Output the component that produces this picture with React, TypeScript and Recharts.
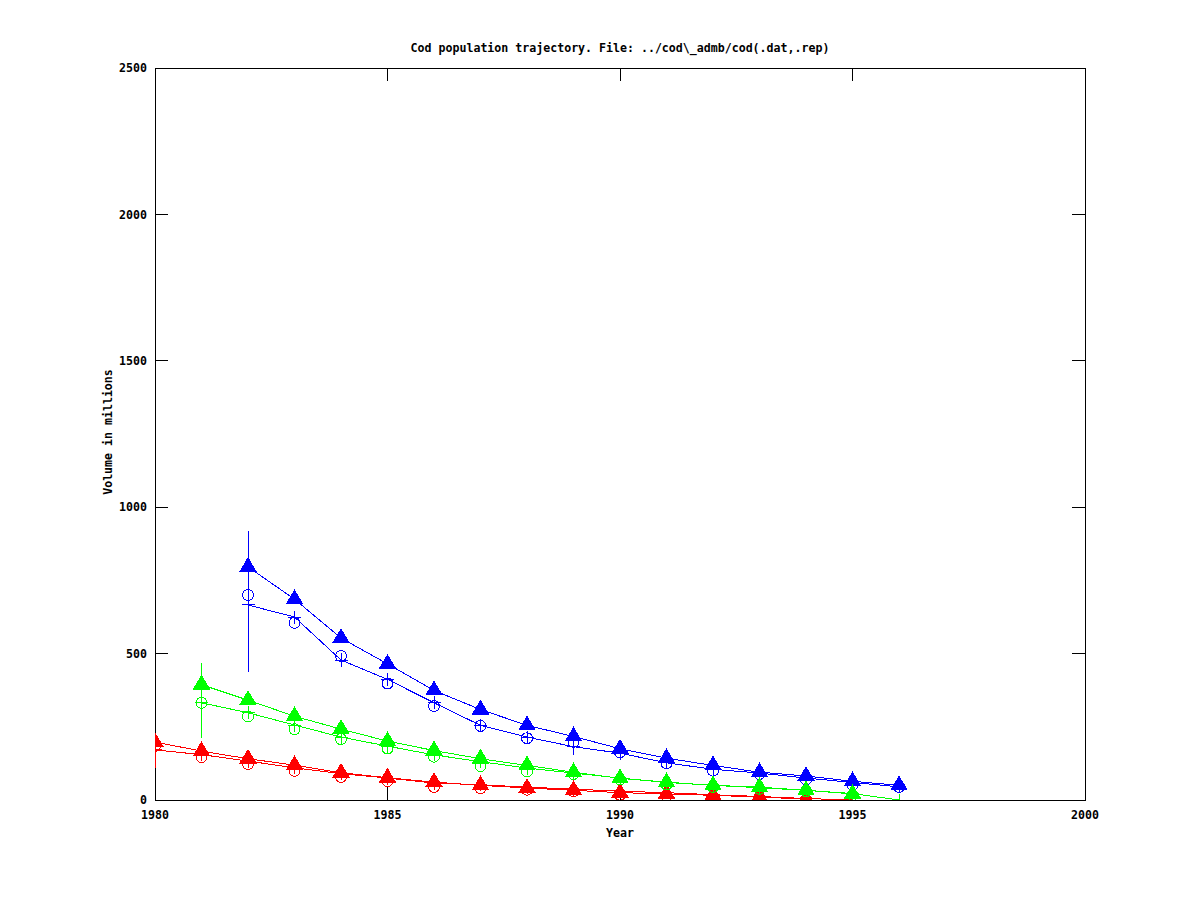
import React from 'react';
import { ComposedChart, Line, XAxis, YAxis, ReferenceLine, ReferenceArea, ErrorBar } from 'recharts';

const years = [1980, 1981, 1982, 1983, 1984, 1985, 1986, 1987, 1988, 1989, 1990, 1991, 1992, 1993, 1994, 1995, 1996];

const blueTri = [null, null, 796, 686, 553, 465, 374, 309, 255, 217, 175, 143, 118, 95, 82, 64, 50];
const blueCirc = [null, null, 700, 605, 492, 398, 321, 253, 211, 199, 163, 125, 100, 89, 70, 52, 45];
const blueFit = [null, null, 666, 625, 478, 412, 332, 255, 215, 182, 160, 127, 105, 92, 75, 60, 45];
const blueErrLo = [null, null, 229, 15, 25, 20, 20, 15, 15, 28, 15, 12, 12, 10, 10, 8, 8];
const blueErrHi = [null, null, 253, 15, 25, 20, 20, 15, 15, 10, 15, 12, 12, 10, 10, 8, 8];

const greenTri = [null, 394, 341, 286, 242, 201, 169, 141, 118, 95, 74, 61, 50, 44, 33, 21, null];
const greenCirc = [null, 332, 285, 242, 208, 176, 148, 116, 97, 89, 70, 53, 45, 38, 30, 17, null];
const greenFit = [null, 332, 298, 256, 215, 184, 154, 131, 109, 92, 75, 60, 50, 42, 33, 22, 0];
const greenErrLo = [null, 120, 14, 12, 12, 10, 10, 10, 8, 8, 8, 6, 6, 6, 5, 5, 0];
const greenErrHi = [null, 136, 14, 12, 12, 10, 10, 10, 8, 8, 8, 6, 6, 6, 5, 5, 0];

const redTri = [198, 167, 141, 119, 93, 76, 61, 50, 41, 33, 25, 21, 16, 10, 3, null, null];
const redCirc = [185, 147, 123, 100, 79, 65, 45, 40, 35, 30, 18, 15, 12, 8, 2, null, null];
const redFit = [171, 155, 133, 110, 90, 75, 58, 52, 44, 37, 30, 25, 18, 12, 5, 0, 0];
const redErrLo = [62, 12, 10, 10, 8, 8, 8, 6, 6, 6, 5, 5, 4, 4, 3, 0, 0];
const redErrHi = [40, 12, 10, 10, 8, 8, 8, 6, 6, 6, 5, 5, 4, 4, 3, 0, 0];

const xTicks = [1980, 1985, 1990, 1995, 2000];
const yTicks = [0, 500, 1000, 1500, 2000, 2500];

const TITLE = 'Cod population trajectory. File: ../cod\\_admb/cod(.dat,.rep)';
const X_LABEL = 'Year';
const Y_LABEL = 'Volume in millions';

const BLUE = '#0000ff';
const GREEN = '#00ff00';
const RED = '#ff0000';
const FONT = '"DejaVu Sans Mono", monospace';

const err = (lo: (number | null)[], hi: (number | null)[], fit: (number | null)[], i: number) =>
  fit[i] == null ? undefined : [lo[i] as number, hi[i] as number];

const data = years.map((year, i) => ({
  year,
  blueTri: blueTri[i],
  blueCirc: blueCirc[i],
  blueFit: blueFit[i],
  blueErr: err(blueErrLo, blueErrHi, blueFit, i),
  greenTri: greenTri[i],
  greenCirc: greenCirc[i],
  greenFit: greenFit[i],
  greenErr: err(greenErrLo, greenErrHi, greenFit, i),
  redTri: redTri[i],
  redCirc: redCirc[i],
  redFit: redFit[i],
  redErr: err(redErrLo, redErrHi, redFit, i),
}));

const bad = (v: any) => v == null || Number.isNaN(v);

const triDot = (color: string) => (props: any) => {
  const { cx, cy, index, value } = props;
  if (bad(cx) || bad(cy) || value == null) return <g key={`t${color}${index}`} />;
  return (
    <polygon
      key={`t${color}${index}`}
      points={`${cx},${cy - 9} ${cx - 8},${cy + 4.5} ${cx + 8},${cy + 4.5}`}
      fill={color}
      stroke={color}
      strokeWidth={1}
    />
  );
};

const circDot = (color: string) => (props: any) => {
  const { cx, cy, index, value } = props;
  if (bad(cx) || bad(cy) || value == null) return <g key={`c${color}${index}`} />;
  return <circle key={`c${color}${index}`} cx={cx} cy={cy} r={5.5} fill="none" stroke={color} strokeWidth={1} />;
};

const plusDot = (color: string) => (props: any) => {
  const { cx, cy, index, value } = props;
  if (bad(cx) || bad(cy) || value == null) return <g key={`p${color}${index}`} />;
  return (
    <g key={`p${color}${index}`} stroke={color} strokeWidth={1}>
      <line x1={cx - 6.5} y1={cy} x2={cx + 6.5} y2={cy} />
      <line x1={cx} y1={cy - 6.5} x2={cx} y2={cy + 6.5} />
    </g>
  );
};

const tickStyle = { fontSize: 11.6, fontFamily: FONT, fontWeight: 'bold', fill: '#000' } as any;

const series = (color: string, tri: string, circ: string, fit: string, errKey: string) => [
  <Line
    key={circ}
    dataKey={circ}
    stroke="none"
    isAnimationActive={false}
    dot={circDot(color)}
    activeDot={false}
    legendType="none"
  />,
  <Line
    key={fit}
    dataKey={fit}
    type="linear"
    stroke={color}
    strokeWidth={1}
    isAnimationActive={false}
    dot={plusDot(color)}
    activeDot={false}
    legendType="none"
  >
    <ErrorBar dataKey={errKey} direction="y" width={0} stroke={color} strokeWidth={1} isAnimationActive={false} />
  </Line>,
  <Line
    key={tri}
    dataKey={tri}
    type="linear"
    stroke={color}
    strokeWidth={1}
    isAnimationActive={false}
    dot={triDot(color)}
    activeDot={false}
    legendType="none"
  />,
];

export default function App() {
  return (
    <div style={{ position: 'absolute', left: 0, top: 0, width: 1200, height: 900, background: '#fff', shapeRendering: 'crispEdges' } as any}>
      <ComposedChart
        width={1200}
        height={900}
        data={data}
        margin={{ top: 68, right: 115, left: 95, bottom: 70 }}
      >
        <XAxis
          dataKey="year"
          type="number"
          domain={[1980, 2000]}
          ticks={xTicks}
          allowDataOverflow
          axisLine={false}
          tickLine={false}
          tickSize={0}
          tickMargin={11}
          height={30}
          tick={tickStyle}
        />
        <YAxis
          type="number"
          domain={[0, 2500]}
          ticks={yTicks}
          allowDataOverflow
          axisLine={false}
          tickLine={false}
          tickSize={0}
          tickMargin={8}
          width={60}
          tick={tickStyle}
        />
        <ReferenceArea x1={1980} x2={2000} y1={0} y2={2500} fill="none" stroke="#000" strokeWidth={1} fillOpacity={0} />
        {xTicks.slice(1, -1).map((t) => (
          <ReferenceLine key={`xb${t}`} segment={[{ x: t, y: 0 }, { x: t, y: 43 }]} stroke="#000" strokeWidth={1} />
        ))}
        {xTicks.slice(1, -1).map((t) => (
          <ReferenceLine key={`xt${t}`} segment={[{ x: t, y: 2500 }, { x: t, y: 2457 }]} stroke="#000" strokeWidth={1} />
        ))}
        {yTicks.slice(1, -1).map((t) => (
          <ReferenceLine key={`yl${t}`} segment={[{ x: 1980, y: t }, { x: 1980.27, y: t }]} stroke="#000" strokeWidth={1} />
        ))}
        {yTicks.slice(1, -1).map((t) => (
          <ReferenceLine key={`yr${t}`} segment={[{ x: 2000, y: t }, { x: 1999.73, y: t }]} stroke="#000" strokeWidth={1} />
        ))}
        {series(RED, 'redTri', 'redCirc', 'redFit', 'redErr')}
        {series(BLUE, 'blueTri', 'blueCirc', 'blueFit', 'blueErr')}
        {series(GREEN, 'greenTri', 'greenCirc', 'greenFit', 'greenErr')}
      </ComposedChart>
      <svg width={1200} height={900} style={{ position: 'absolute', left: 0, top: 0, pointerEvents: 'none' }}>
        <text x={620} y={52} textAnchor="middle" fontFamily={FONT} fontWeight="bold" fontSize={11.6} fill="#000">
          {TITLE}
        </text>
        <text x={620} y={837} textAnchor="middle" fontFamily={FONT} fontWeight="bold" fontSize={11.6} fill="#000">
          {X_LABEL}
        </text>
        <text
          x={112}
          y={432}
          textAnchor="middle"
          fontFamily={FONT}
          fontWeight="bold"
          fontSize={11.6}
          fill="#000"
          transform="rotate(-90 112 432)"
        >
          {Y_LABEL}
        </text>
      </svg>
    </div>
  );
}
